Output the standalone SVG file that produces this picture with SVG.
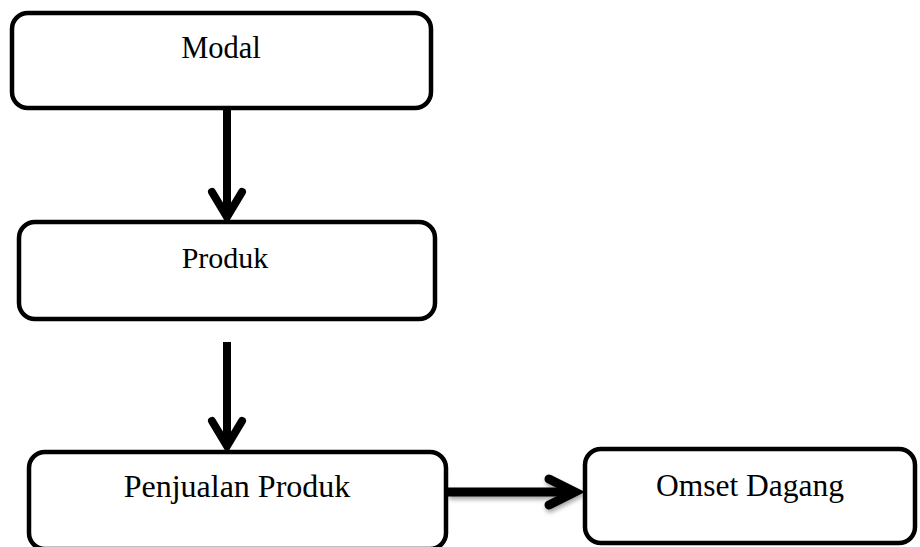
<svg xmlns="http://www.w3.org/2000/svg" width="920" height="547" viewBox="0 0 920 547">
  <defs>
    <filter id="soft" x="-10%" y="-50%" width="120%" height="200%">
      <feDropShadow dx="1" dy="3" stdDeviation="2" flood-color="#000" flood-opacity="0.35"/>
    </filter>
    <style>
      .box { fill: #fff; stroke: #000; stroke-width: 4.5; }
      .lbl { font-family: "Liberation Serif", "Times New Roman", serif; fill: #000; text-anchor: middle; }
      .wire { fill: none; stroke: #000; stroke-width: 8; stroke-linecap: butt; }
      .head { fill: none; stroke: #000; stroke-width: 8; stroke-linecap: round; stroke-linejoin: miter; }
    </style>
  </defs>
  <rect width="920" height="547" fill="#fff"/>

  <g id="connectors">
    <!-- Modal -> Produk -->
    <line class="wire" x1="227" y1="110" x2="227" y2="216"/>
    <polyline class="head" points="212,192 227,217 242,192"/>
    <!-- Produk -> Penjualan Produk -->
    <line class="wire" x1="227" y1="342" x2="227" y2="446"/>
    <polyline class="head" points="212,421 227,446 242,421"/>
    <!-- Penjualan Produk -> Omset Dagang -->
    <g filter="url(#soft)">
      <line class="wire" x1="448" y1="492" x2="574" y2="492" style="stroke-width:9"/>
      <polyline class="head" points="549,479 575,492 549,505" style="stroke-width:9"/>
    </g>
  </g>

  <g id="modal">
    <rect class="box" x="12" y="13" width="419" height="95" rx="16"/>
    <text class="lbl" x="221" y="58" font-size="30.5">Modal</text>
  </g>

  <g id="produk">
    <rect class="box" x="19" y="222" width="416" height="97" rx="16"/>
    <text class="lbl" x="225" y="268" font-size="30">Produk</text>
  </g>

  <g id="penjualan-produk">
    <rect class="box" x="29" y="452" width="417" height="97" rx="16"/>
    <text class="lbl" x="237" y="497" font-size="32">Penjualan Produk</text>
  </g>

  <g id="omset-dagang">
    <rect class="box" x="585" y="449" width="330" height="94" rx="16"/>
    <text class="lbl" x="750" y="496" font-size="31.5">Omset Dagang</text>
  </g>
</svg>
